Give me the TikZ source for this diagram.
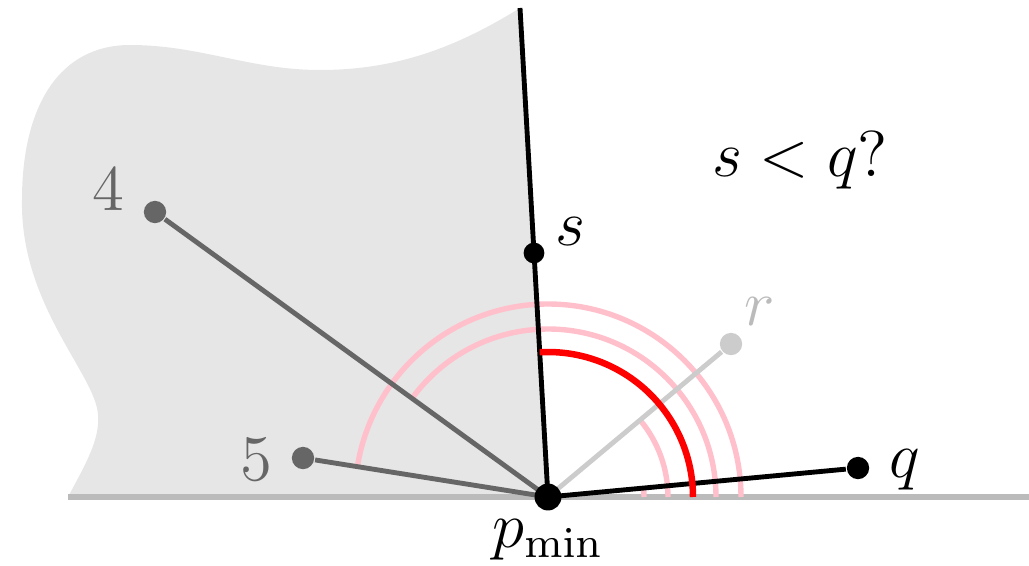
\documentclass[tikz,border=0pt]{standalone}
\usepackage{amsmath,amssymb}
\usepackage{xcolor}
\usepackage{tikz}
\usetikzlibrary{positioning,calc}
\definecolor{regiongray}{HTML}{E6E6E6}
\definecolor{basegray}{HTML}{BBBBBB}
\definecolor{ptgray}{HTML}{666666}
\definecolor{rgray}{HTML}{CCCCCC}
\definecolor{arcpink}{HTML}{FFC0CB}
\tikzset{
  pt/.style      = {circle, fill=#1, inner sep=0pt, minimum size=1.45mm},
  ray/.style     = {line width=0.9pt, draw=#1},
  sweep/.style   = {line width=1pt, draw=arcpink},
  lbl/.style     = {font=\large, text=#1, inner sep=0pt},
}

\begin{document}
\begin{tikzpicture}[x=0.065mm, y=0.065mm]
  \useasboundingbox (0,0) rectangle (1029,565);
  % the part already swept
  \fill[regiongray] (68,68) .. controls (85,100) and (100,125) .. (98,150)
    .. controls (96,190) and (20,260) .. (22,365)
    .. controls (22,460) and (60,520) .. (130,520)
    .. controls (200,520) and (250,495) .. (320,495)
    .. controls (400,495) and (460,520) .. (520,557) -- (548,68) -- cycle;
  \draw[basegray, line width=1.05pt] (68,68) -- (1029,68);

  \coordinate (pmin) at (548,68);
  \coordinate (stop) at (520,557);
  \node[pt=ptgray] (p4) at (155,353) {};
  \node[pt=ptgray] (p5) at (303,107) {};
  \node[pt=rgray]  (r)  at (731,221) {};
  \node[pt=black]  (q)  at (858,97) {};

  % angle sweeps
  \draw[sweep] ($(pmin)+(96,0)$)  arc[start angle=0, end angle=5.3,  radius=96];
  \draw[sweep] ($(pmin)+(120,0)$) arc[start angle=0, end angle=39.9, radius=120];
  \draw[sweep] ($(pmin)+(168,0)$) arc[start angle=0, end angle=144,  radius=168];
  \draw[sweep] ($(pmin)+(193,0)$) arc[start angle=0, end angle=171,  radius=193];

  \draw[ray=ptgray] (p4) -- (pmin);
  \draw[ray=ptgray] (p5) -- (pmin);
  \draw[ray=rgray]  (r) -- (pmin);
  \draw[ray=black]  (q) -- (pmin);
  \draw[ray=black]  (stop) -- (pmin);
  \node[pt=black, minimum size=1.35mm] (s) at (534,312) {};
  \draw[red, line width=1.2pt] ($(pmin)+(145,0)$) arc[start angle=0, end angle=93.3, radius=145];
  \node[pt=black, minimum size=1.75mm] (pm) at (pmin) {};

  % labels
  \node[lbl=ptgray] at (108,375) {$4$};
  \node[lbl=ptgray] at (256,105) {$5$};
  \node[lbl=basegray] at (760,253) {$r$};
  \node[lbl=black] at (570,333) {$s$};
  \node[lbl=black] at (905,95) {$q$};
  \node[lbl=black] at (548,25) {$p_{\min}$};
  \node[lbl=black] at (800,405) {$s < q?$};
\end{tikzpicture}
\end{document}
